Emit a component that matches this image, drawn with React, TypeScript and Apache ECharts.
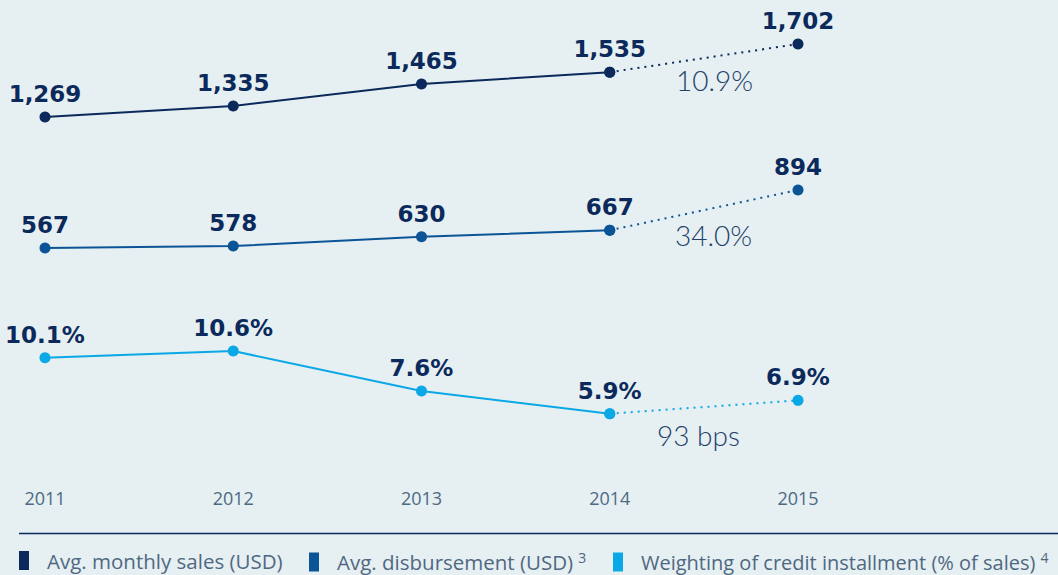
import React, { useEffect, useRef } from "react";
import * as echarts from "echarts";

const years = ["2011", "2012", "2013", "2014", "2015"];
const monthlySales = [1269, 1335, 1465, 1535, 1702];
const disbursement = [567, 578, 630, 667, 894];
const weighting = [10.1, 10.6, 7.6, 5.9, 6.9];
const growthNotes = ["10.9%", "34.0%", "93 bps"];
const seriesNames = [
  "Avg. monthly sales (USD)",
  "Avg. disbursement (USD)",
  "Weighting of credit installment (% of sales)",
];
const footnotes = ["", "3", "4"];

const NAVY = "#0b2a5b";
const MID = "#0b5596";
const CYAN = "#0aa8e6";
const BG = "#e6eff1";
const FONT = "'Open Sans', Lato, sans-serif";
const BOLD_FONT = "'DejaVu Sans', sans-serif";

const fmtNum = (v: number) => v.toLocaleString("en-US");
const fmtPct = (v: number) => v.toFixed(1) + "%";

function solid(arr: number[]) {
  return arr.map((v, i) => (i < arr.length - 1 ? v : null));
}
function dotted(arr: number[]) {
  return arr.map((v, i) => (i >= arr.length - 2 ? v : null));
}

export default function App() {
  const ref = useRef<HTMLDivElement>(null);
  useEffect(() => {
    document.body.style.margin = "0";
    const chart = echarts.init(ref.current!, undefined, { renderer: "svg" });
    const colors = [NAVY, MID, CYAN];
    const datasets = [monthlySales, disbursement, weighting];
    const fmts = [fmtNum, fmtNum, fmtPct];
    const grids = [
      { left: 45, right: 260, top: 27.5, height: 101.2 },
      { left: 45, right: 260, top: 171.2, height: 88.7 },
      { left: 45, right: 260, top: 345.7, height: 80 },
    ];
    const yRanges = [
      [1200, 1800],
      [500, 1000],
      [5, 11],
    ];
    const labelStyle = {
      show: true,
      position: "top",
      distance: 6,
      color: NAVY,
      fontFamily: BOLD_FONT,
      fontWeight: "bold",
      fontSize: 23,
    };
    const series: any[] = [];
    datasets.forEach((d, k) => {
      series.push({
        name: seriesNames[k],
        type: "line",
        xAxisIndex: k,
        yAxisIndex: k,
        data: solid(d),
        symbol: "circle",
        symbolSize: 11,
        lineStyle: { color: colors[k], width: 2 },
        itemStyle: { color: colors[k] },
        label: { ...labelStyle, formatter: (p: any) => fmts[k](p.value) },
      });
      series.push({
        name: seriesNames[k],
        type: "line",
        xAxisIndex: k,
        yAxisIndex: k,
        data: dotted(d),
        symbol: "circle",
        symbolSize: 11,
        lineStyle: { color: colors[k], width: 2, type: [2, 5] },
        itemStyle: { color: colors[k] },
        label: {
          ...labelStyle,
          formatter: (p: any) => (p.dataIndex === d.length - 1 ? fmts[k](p.value) : ""),
        },
      });
    });
    const legendLefts = [19, 309, 613];
    const legendSizes = [20.5, 20.5, 20];
    chart.setOption({
      animation: false,
      backgroundColor: BG,
      grid: grids,
      xAxis: grids.map((_, k) => ({
        type: "category",
        gridIndex: k,
        data: years,
        boundaryGap: false,
        axisLine: { show: false },
        axisTick: { show: false },
        splitLine: { show: false },
        axisLabel: {
          show: k === 2,
          margin: 63,
          color: "#4d6983",
          fontSize: 18,
          fontFamily: FONT,
        },
      })),
      yAxis: grids.map((_, k) => ({
        type: "value",
        gridIndex: k,
        min: yRanges[k][0],
        max: yRanges[k][1],
        show: false,
        splitLine: { show: false },
      })),
      legend: seriesNames.map((n, k) => ({
        data: [n],
        left: legendLefts[k],
        top: 550,
        padding: 0,
        icon: "rect",
        itemWidth: 10,
        itemHeight: 19,
        selectedMode: false,
        formatter: (name: string) =>
          "{g|}{t|" + name + "}" + (footnotes[k] ? "{s|" + footnotes[k] + "}" : ""),
        textStyle: {
          rich: {
            g: { width: 13 },
            t: { color: "#4f6882", fontSize: legendSizes[k], fontFamily: FONT },
            s: {
              color: "#4f6882",
              fontSize: 14,
              fontFamily: FONT,
              padding: [0, 0, 10, 5],
            },
          },
        },
      })),
      graphic: [
        {
          type: "line",
          shape: { x1: 19, y1: 533.5, x2: 1058, y2: 533.5 },
          style: { stroke: NAVY, lineWidth: 1.5 },
        },
        ...growthNotes.map((t, k) => ({
          type: "text",
          left: [676, 675, 657][k],
          top: [66, 221, 421][k],
          style: {
            text: t,
            fill: "#24416b",
            fontSize: 28,
            fontWeight: 300,
            fontFamily: "Lato, sans-serif",
          },
        })),
      ],
      series,
    });
    return () => chart.dispose();
  }, []);
  return <div ref={ref} style={{ width: 1058, height: 575 }} />;
}
